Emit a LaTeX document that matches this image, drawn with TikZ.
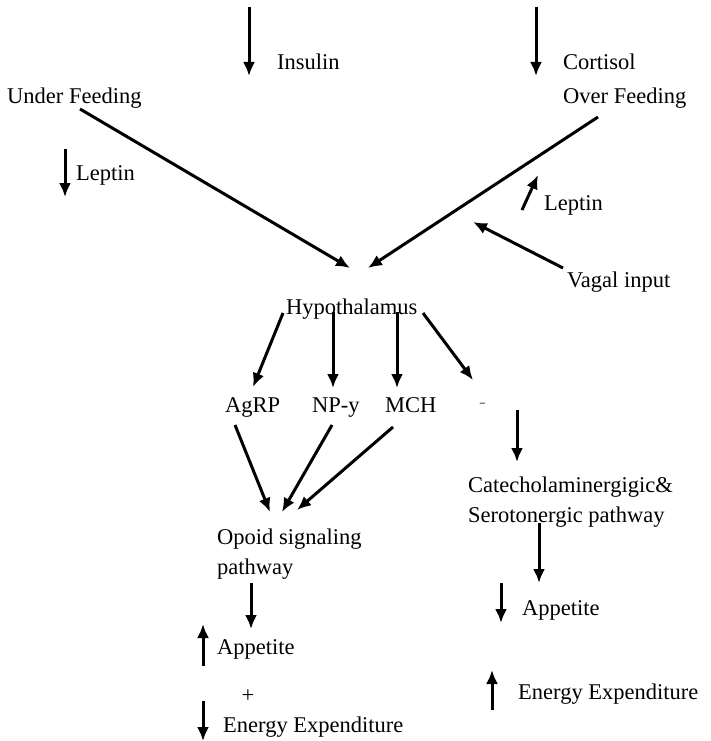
\documentclass[tikz,border=0pt]{standalone}
\usepackage{fontspec}
\setmainfont{Liberation Serif}
\usetikzlibrary{arrows.meta}
\begin{document}
\begin{tikzpicture}[x=1pt, y=-1pt, >={Latex[length=14pt,width=12pt]},
    lbl/.style={anchor=base west, inner sep=0pt, font=\fontsize{22.5}{30}\selectfont},
    arr/.style={->, line width=3pt}]
\useasboundingbox (0,0) rectangle (711,741);
% labels
\node[lbl] (ins) at (277,70) {Insulin};
\node[lbl] (cort) at (563,70) {Cortisol};
\node[lbl] (under) at (7,104) {Under Feeding};
\node[lbl] (over) at (563,104) {Over Feeding};
\node[lbl] (lepl) at (76,180) {Leptin};
\node[lbl] (lepr) at (544,210) {Leptin};
\node[lbl] (vagal) at (567,287) {Vagal input};
\node[lbl] (hypo) at (286,314) {Hypothalamus};
\node[lbl] (agrp) at (225,412) {AgRP};
\node[lbl] (npy) at (312,412) {NP-y};
\node[lbl] (mch) at (385,412) {MCH};
\node[lbl, font=\fontsize{20}{20}\selectfont, text=black!50] (dash) at (479,408) {-};
\node[lbl, align=left] (cat) at (468,522) {Catecholaminergigic\&\\Serotonergic pathway};
\node[lbl, align=left] (opoid) at (217,574) {Opoid signaling\\pathway};
\node[lbl] (appr) at (522,615) {Appetite};
\node[lbl] (eer) at (518,699) {Energy Expenditure};
\node[lbl] (appl) at (217,654) {Appetite};
\node[lbl, anchor=center] (plus) at (248,696) {+};
\node[lbl] (eel) at (223,732) {Energy Expenditure};
% arrow ends
\coordinate (ins1) at (249,7);   \coordinate (ins2) at (249,76);
\coordinate (cort1) at (536,7);  \coordinate (cort2) at (536,76);
\coordinate (lepl1) at (65,149); \coordinate (lepl2) at (65,197);
\coordinate (under1) at (80,109);
\coordinate (over1) at (598,117);
\coordinate (hypoa) at (350,268); \coordinate (hypob) at (368,268);
\coordinate (lepr1) at (522,210); \coordinate (lepr2) at (538,175);
\coordinate (vagal1) at (563,268); \coordinate (vagal2) at (473,222);
\coordinate (h1) at (283,313); \coordinate (agrp1) at (253,387);
\coordinate (h2) at (333,312); \coordinate (npy1) at (333,388);
\coordinate (h3) at (397,312); \coordinate (mch1) at (397,388);
\coordinate (h4) at (423,313); \coordinate (dash1) at (473,380);
\coordinate (dash2) at (517,410); \coordinate (cat1) at (517,462);
\coordinate (agrp2) at (235,425); \coordinate (op1) at (270,512);
\coordinate (npy2) at (332,425); \coordinate (op2) at (282,512);
\coordinate (mch2) at (393,427); \coordinate (op3) at (297,510);
\coordinate (cat2) at (539,523); \coordinate (appr1) at (539,583);
\coordinate (appr2) at (501,583); \coordinate (appr3) at (501,623);
\coordinate (eer1) at (492,710); \coordinate (eer2) at (492,670);
\coordinate (op4) at (251,583); \coordinate (appl1) at (251,629);
\coordinate (appl2) at (203,666); \coordinate (appl3) at (203,624);
\coordinate (eel1) at (203,701); \coordinate (eel2) at (203,741);
% arrows
\foreach \a/\b in {ins1/ins2, cort1/cort2, lepl1/lepl2, under1/hypoa, over1/hypob,
    lepr1/lepr2, vagal1/vagal2, h1/agrp1, h2/npy1, h3/mch1, h4/dash1, dash2/cat1,
    agrp2/op1, npy2/op2, mch2/op3, cat2/appr1, appr2/appr3, eer1/eer2,
    op4/appl1, appl2/appl3, eel1/eel2}
  \draw[arr] (\a) -- (\b);
\end{tikzpicture}
\end{document}
